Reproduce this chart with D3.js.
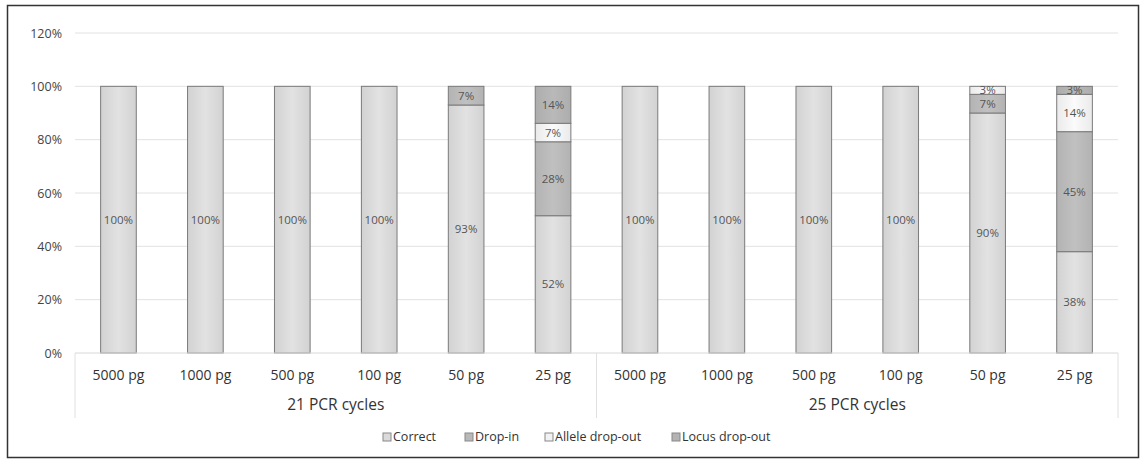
<!DOCTYPE html>
<html><head><meta charset="utf-8">
<script src="https://cdn.jsdelivr.net/npm/d3@7"></script>
<style>body{margin:0;background:#fff}svg{display:block}text{font-family:"Open Sans",sans-serif}</style>
</head><body>
<script>
const categories = ["5000 pg","1000 pg","500 pg","100 pg","50 pg","25 pg","5000 pg","1000 pg","500 pg","100 pg","50 pg","25 pg"];
const groups = ["21 PCR cycles","25 PCR cycles"];
const seriesNames = ["Correct","Drop-in","Allele drop-out","Locus drop-out"];
const correct = [100,100,100,100,93,52,100,100,100,100,90,38];
const dropIn  = [0,0,0,0,7,28,0,0,0,0,7,45];
const alleleDO= [0,0,0,0,0,7,0,0,0,0,3,14];
const locusDO = [0,0,0,0,0,14,0,0,0,0,0,3];
const yTicks = [0,20,40,60,80,100,120];
const colors = ["#dadada","#b9b9b9","#f2f2f2","#b3b3b3"];

const W=1142,H=464;
const svg=d3.select("body").append("svg").attr("width",W).attr("height",H);
svg.append("rect").attr("x",7.5).attr("y",5.5).attr("width",1131).attr("height",452).attr("fill","#fff").attr("stroke","#333").attr("stroke-width",1.5);

const x0=75,x1=1118,yTop=33,yBot=353;
const y=d3.scaleLinear().domain([0,120]).range([yBot,yTop]);
const idx=d3.range(categories.length);
const x=d3.scaleBand().domain(idx).range([x0,x1]).padding(0);
const bw=x.bandwidth()*0.41;

// gridlines
svg.append("g").selectAll("line").data(yTicks.filter(d=>d>0)).join("line")
 .attr("x1",x0).attr("x2",x1).attr("y1",d=>y(d)).attr("y2",d=>y(d))
 .attr("stroke","#e2e2e2").attr("stroke-width",1);

// y axis
const ya=svg.append("g").attr("transform",`translate(${x0-10},0)`)
 .call(d3.axisLeft(y).tickValues(yTicks).tickFormat(d=>d+"%").tickSize(0));
ya.select(".domain").remove();
ya.selectAll("text").attr("font-size",12.5).attr("fill","#444").attr("font-family","Open Sans");

// stacked data (100% stacked, like the original chart)
const rows=idx.map(i=>({i,Correct:correct[i],"Drop-in":dropIn[i],"Allele drop-out":alleleDO[i],"Locus drop-out":locusDO[i]}));
const stack=d3.stack().keys(seriesNames).offset(d3.stackOffsetExpand)(rows);

const defs=svg.append("defs");
colors.forEach((c,k)=>{
  const g=defs.append("linearGradient").attr("id","g"+k).attr("x1",0).attr("x2",1).attr("y1",0).attr("y2",0);
  g.append("stop").attr("offset","0%").attr("stop-color",d3.color(c).darker(0.1));
  g.append("stop").attr("offset","50%").attr("stop-color",d3.color(c).brighter(0.1));
  g.append("stop").attr("offset","100%").attr("stop-color",d3.color(c).darker(0.1));
});

stack.forEach((s,k)=>{
  const g=svg.append("g");
  s.forEach((d,j)=>{
    const v=d.data[s.key];
    if(v<=0) return;
    const lo=y(d[0]*100), hi=y(d[1]*100);
    const cx=x(j)+x.bandwidth()/2;
    g.append("rect").attr("x",cx-bw/2).attr("y",hi).attr("width",bw).attr("height",lo-hi)
     .attr("fill",`url(#g${k})`).attr("stroke","#7a7a7a").attr("stroke-width",1);
    g.append("text").attr("x",cx).attr("y",(lo+hi)/2).attr("dy","0.35em")
     .attr("text-anchor","middle").attr("font-size",11.5).attr("fill","#555")
     .text(v+"%");
  });
});

// category axis box
const ax=svg.append("g").attr("stroke","#e0e0e0").attr("stroke-width",1);
ax.append("line").attr("x1",x0).attr("x2",x1).attr("y1",yBot).attr("y2",yBot).attr("stroke","#d8d8d8");
[x0,x(6),x1].forEach(v=>ax.append("line").attr("x1",v).attr("x2",v).attr("y1",yBot).attr("y2",418));

const xa=svg.append("g").attr("transform",`translate(0,${yBot})`)
 .call(d3.axisBottom(x).tickFormat(i=>categories[i]).tickSize(0).tickPadding(17));
xa.select(".domain").remove();
xa.selectAll("text").attr("font-size",14).attr("fill","#333").attr("font-family","Open Sans");

groups.forEach((g,k)=>{
  const a=x(k*6), b=x(k*6+5)+x.bandwidth();
  svg.append("text").attr("x",(a+b)/2).attr("y",405).attr("dy","0.35em").attr("text-anchor","middle")
   .attr("font-size",15.5).attr("fill","#333").text(g);
});

// legend
const legX=[383,465,545,672];
seriesNames.forEach((n,k)=>{
  const lg=svg.append("g").attr("transform",`translate(${legX[k]},437)`);
  lg.append("rect").attr("x",0).attr("y",-4).attr("width",8).attr("height",8)
   .attr("fill",colors[k]).attr("stroke","#888").attr("stroke-width",1);
  lg.append("text").attr("x",10).attr("y",0).attr("dy","0.35em").attr("font-size",12.5).attr("fill","#333").text(n);
});
</script>
</body></html>
